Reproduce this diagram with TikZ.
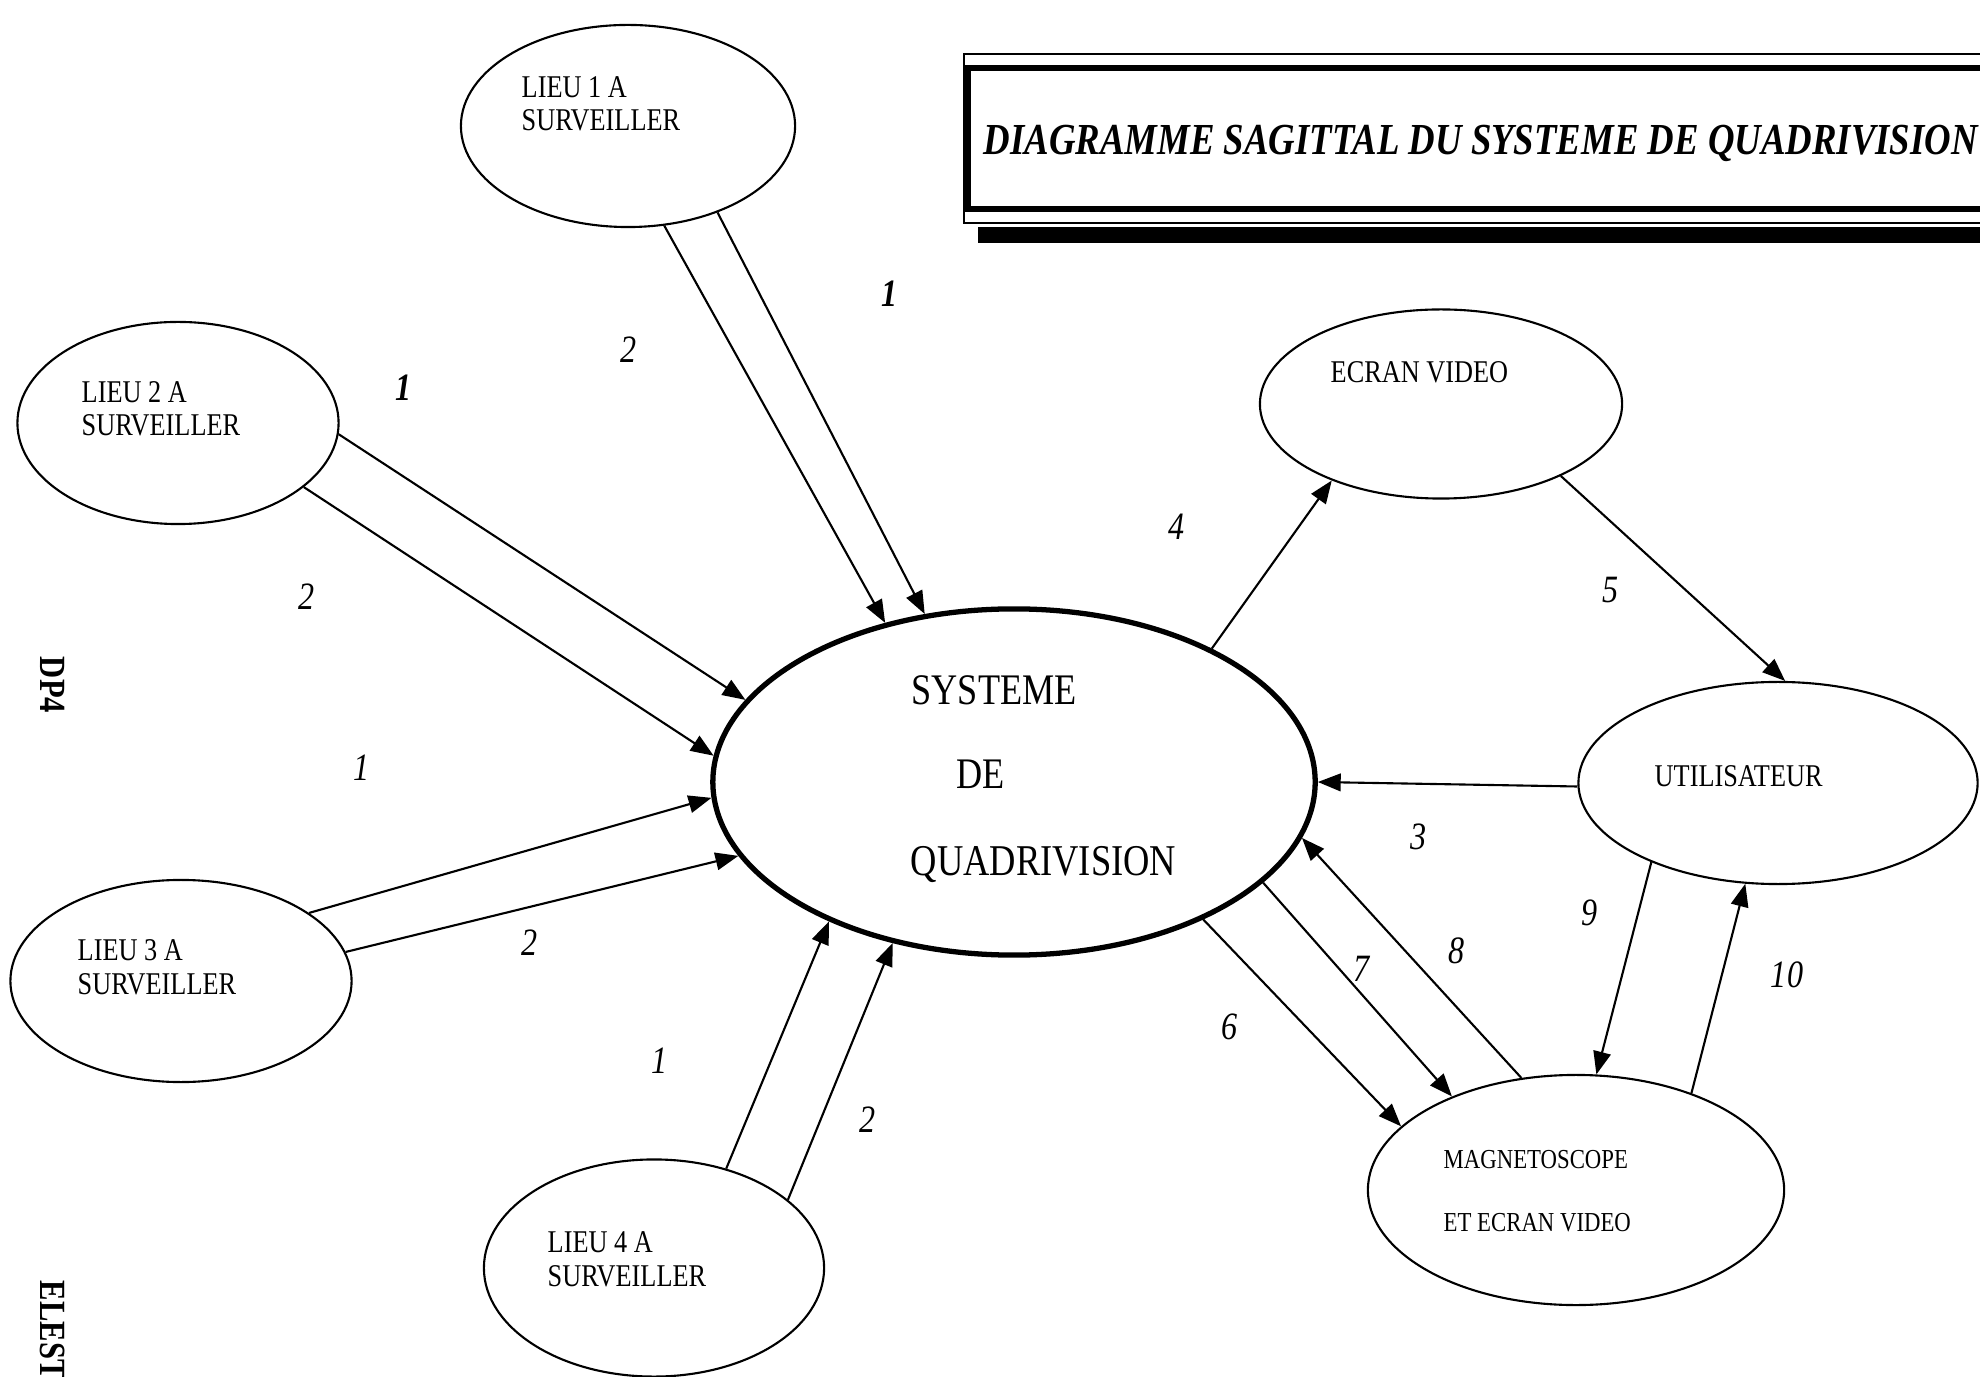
\documentclass[tikz,border=0pt]{standalone}
\usepackage{fontspec}
\setmainfont[FakeStretch=0.83]{Liberation Serif}
\usetikzlibrary{arrows.meta,shapes.geometric}

\begin{document}
\begin{tikzpicture}[x=0.01cm,y=-0.01cm,
        blob/.style={draw,ellipse,line width=0.6pt,inner sep=0pt},
        flow/.style={line width=0.6pt,-{Triangle[length=6.5pt,width=5pt]}},
        lbl/.style={anchor=base west,inner sep=0pt,align=left,font=\fontsize{9}{9.4}\selectfont},
        num/.style={inner sep=0pt,font=\fontsize{11}{13}\selectfont\itshape},
        numb/.style={inner sep=0pt,font=\fontsize{11}{13}\selectfont\bfseries\itshape}]
        \useasboundingbox (0,0) rectangle (1980,1377);
        % title box, runs off the right edge
        \draw[line width=0.5pt] (2000,54) -- (964,54) -- (964,223) -- (2000,223);
        \draw[line width=1.8pt] (2000,68) -- (968,68) -- (968,209) -- (2000,209);
        \fill (978,227) rectangle (2000,243);
        \node[anchor=base west,inner sep=0pt,font=\fontsize{12.6}{14}\selectfont\bfseries\itshape] (titre) at (983,155)
            {DIAGRAMME SAGITTAL DU SYSTEME DE QUADRIVISION};
        % side marks
        \node[rotate=-90,anchor=center,inner sep=0pt,font=\fontsize{10.5}{12}\selectfont\bfseries] (dp) at (53,685) {DP4};
        \node[rotate=-90,anchor=west,inner sep=0pt,font=\fontsize{10.5}{12}\selectfont\bfseries] (elest) at (53,1280) {ELEST};
        % the system
        \node[blob,line width=1.5pt,minimum width=6.02cm,minimum height=3.46cm] (sys) at (1014,782) {};
        \node[anchor=base west,inner sep=0pt,font=\fontsize{12.4}{14}\selectfont] (sysa) at (911,705) {SYSTEME};
        \node[anchor=base west,inner sep=0pt,font=\fontsize{12.4}{14}\selectfont] (sysb) at (956,789) {DE};
        \node[anchor=base west,inner sep=0pt,font=\fontsize{12.5}{14}\selectfont] (sysc) at (910,876) {QUADRIVISION};
        % places to watch (base = last line)
        \node[blob,minimum width=3.34cm,minimum height=2.02cm] (lieuA) at (628,126) {};
        \node[lbl] (lieuAt) at (521,131) {LIEU 1 A\\SURVEILLER};
        \node[blob,minimum width=3.21cm,minimum height=2.02cm] (lieuB) at (178,423) {};
        \node[lbl] (lieuBt) at (81,436) {LIEU 2 A\\SURVEILLER};
        \node[blob,minimum width=3.41cm,minimum height=2.02cm] (lieuC) at (181,981) {};
        \node[lbl] (lieuCt) at (77,994) {LIEU 3 A\\SURVEILLER};
        \node[blob,minimum width=3.40cm,minimum height=2.17cm] (lieuD) at (654,1268) {};
        \node[lbl] (lieuDt) at (547,1286) {LIEU 4 A\\SURVEILLER};
        % outputs
        \node[blob,minimum width=3.62cm,minimum height=1.89cm] (ecran) at (1441,404) {};
        \node[lbl] (ecrant) at (1330,383) {ECRAN VIDEO};
        \node[blob,minimum width=3.99cm,minimum height=2.02cm] (util) at (1778,783) {};
        \node[lbl] (utilt) at (1654,787) {UTILISATEUR};
        \node[blob,minimum width=4.16cm,minimum height=2.30cm] (magneto) at (1576,1190) {};
        \node[lbl,font=\fontsize{7.8}{9}\selectfont] (magnetoa) at (1443,1168) {MAGNETOSCOPE};
        \node[lbl,font=\fontsize{7.8}{9}\selectfont] (magnetob) at (1443,1231) {ET ECRAN VIDEO};
        % flows in
        \draw[flow] (lieuA.-70) -- (sys.129);
        \draw[flow] (lieuA.-44) -- (sys.118);
        \draw[flow] (lieuB.-4) -- (sys.163.5);
        \draw[flow] (lieuB.-27) -- (sys.175.4);
        \draw[flow] (lieuC.28.7) -- (sys.183.2);
        \draw[flow] (lieuC.10.2) -- (sys.195.5);
        \draw[flow] (lieuD.54) -- (sys.217.8);
        \draw[flow] (lieuD.27.4) -- (sys.233.4);
        % flows out
        \draw[flow] (sys.34.9) -- (ecran.215.9);
        \draw[flow] (ecran.-31.3) -- (util.86);
        \draw[flow] (util.181) -- (sys.0);
        \draw[flow] (sys.-36) -- (magneto.160);
        \draw[flow] (sys.-22.5) -- (magneto.143);
        \draw[flow] (magneto.116) -- (sys.-11.1);
        \draw[flow] (util.212) -- (magneto.80);
        \draw[flow] (magneto.40.6) -- (util.252);
        % flow numbers
        \node[num] (nA2) at (629,350) {2};
        \node[numb] (nA1) at (890,294) {1};
        \node[numb] (nB1) at (404,388) {1};
        \node[num] (nB2) at (307,597) {2};
        \node[num] (nC1) at (362,768) {1};
        \node[num] (nC2) at (530,943) {2};
        \node[num] (nD1) at (660,1061) {1};
        \node[num] (nD2) at (868,1120) {2};
        \node[num] (n4) at (1177,527) {4};
        \node[num] (n5) at (1610,590) {5};
        \node[num] (n3) at (1418,837) {3};
        \node[num] (n6) at (1229,1027) {6};
        \node[num] (n7) at (1361,969) {7};
        \node[num] (n8) at (1456,951) {8};
        \node[num] (n9) at (1589,913) {9};
        \node[num] (n10) at (1787,975) {10};
\end{tikzpicture}
\end{document}
